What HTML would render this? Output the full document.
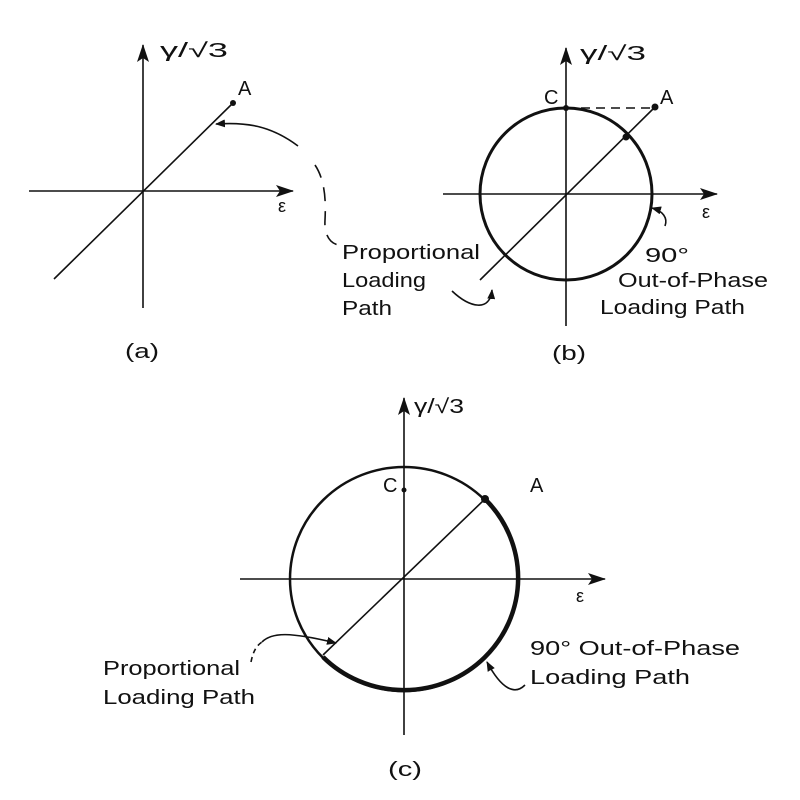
<!DOCTYPE html>
<html><head><meta charset="utf-8"><style>
html,body{margin:0;padding:0;background:#fff}
svg{display:block}
text{font-family:"Liberation Sans",sans-serif;fill:#111}
</style></head><body>
<svg width="800" height="800" viewBox="0 0 800 800" xmlns="http://www.w3.org/2000/svg">
<defs>
<marker id="ah" markerWidth="10" markerHeight="8" refX="9" refY="4" orient="auto" markerUnits="userSpaceOnUse">
<path d="M0,0 L10,4 L0,8 Z" fill="#111"/></marker>
<marker id="big" markerWidth="18" markerHeight="12" refX="17" refY="6" orient="auto" markerUnits="userSpaceOnUse">
<path d="M0,0 L18,6 L0,12 L4,6 Z" fill="#111"/></marker>
</defs>
<g stroke="#111" fill="none" stroke-width="1.6">
<line x1="29" y1="191" x2="293" y2="191" marker-end="url(#big)"/>
<line x1="143" y1="308" x2="143" y2="45" marker-end="url(#big)"/>
<line x1="54" y1="279" x2="233" y2="103"/>
<path d="M298,146 C270,125 245,122 216,124" marker-end="url(#ah)"/>
<path d="M315,165 C325,180 326,200 325,220 C324,235 330,243 338,245" stroke-dasharray="14,10"/>
<line x1="443" y1="194" x2="717" y2="194" marker-end="url(#big)"/>
<line x1="566" y1="326" x2="566" y2="48" marker-end="url(#big)"/>
<circle cx="566" cy="194" r="86" stroke-width="3"/>
<line x1="480" y1="280" x2="655" y2="107"/>
<line x1="566" y1="108" x2="655" y2="108" stroke-dasharray="9,6"/>
<path d="M452,291 C470,308 490,312 492,290" marker-end="url(#ah)"/>
<path d="M665,226 C668,218 663,211 652,208" marker-end="url(#ah)"/>
<line x1="240" y1="579" x2="605" y2="579" marker-end="url(#big)"/>
<line x1="404" y1="735" x2="404" y2="398" marker-end="url(#big)"/>
<ellipse cx="404" cy="579" rx="114" ry="112" stroke-width="2.5"/>
<path d="M485,499 A114,112 0 0 1 323,657" stroke-width="4.5"/>
<line x1="485" y1="499" x2="323" y2="655"/>
<path d="M262,642 C272,632 290,632 336,643" marker-end="url(#ah)"/>
<path d="M251,662 C253,652 256,646 262,642" stroke-dasharray="5,4"/>
<path d="M525,685 C515,695 502,690 487,662" marker-end="url(#ah)"/>
</g>
<g fill="#111">
<circle cx="233" cy="103" r="3"/>
<circle cx="655" cy="107" r="3.5"/>
<circle cx="566" cy="108" r="3"/>
<circle cx="626" cy="137" r="3.5"/>
<circle cx="404" cy="490" r="2.5"/>
<circle cx="485" cy="499" r="4"/>
</g>
<g font-size="20">
<text x="160" y="57" textLength="68" lengthAdjust="spacingAndGlyphs">γ/√3</text>
<text x="238" y="95">A</text>
<text x="278" y="212" font-size="18">ε</text>
<text x="342" y="259" textLength="138" lengthAdjust="spacingAndGlyphs">Proportional</text>
<text x="342" y="287" textLength="84" lengthAdjust="spacingAndGlyphs">Loading</text>
<text x="342" y="315" textLength="50" lengthAdjust="spacingAndGlyphs">Path</text>
<text x="125" y="358" textLength="34" lengthAdjust="spacingAndGlyphs">(a)</text>
<text x="580" y="60" textLength="66" lengthAdjust="spacingAndGlyphs">γ/√3</text>
<text x="544" y="104">C</text>
<text x="660" y="104">A</text>
<text x="702" y="218" font-size="18">ε</text>
<text x="645" y="262" textLength="44" lengthAdjust="spacingAndGlyphs">90°</text>
<text x="618" y="287" textLength="150" lengthAdjust="spacingAndGlyphs">Out-of-Phase</text>
<text x="600" y="314" textLength="145" lengthAdjust="spacingAndGlyphs">Loading Path</text>
<text x="552" y="360" textLength="34" lengthAdjust="spacingAndGlyphs">(b)</text>
<text x="414" y="413" textLength="50" lengthAdjust="spacingAndGlyphs">γ/√3</text>
<text x="383" y="492">C</text>
<text x="530" y="492">A</text>
<text x="576" y="602" font-size="18">ε</text>
<text x="530" y="655" textLength="210" lengthAdjust="spacingAndGlyphs">90° Out-of-Phase</text>
<text x="530" y="684" textLength="160" lengthAdjust="spacingAndGlyphs">Loading Path</text>
<text x="103" y="675" textLength="137" lengthAdjust="spacingAndGlyphs">Proportional</text>
<text x="103" y="704" textLength="152" lengthAdjust="spacingAndGlyphs">Loading Path</text>
<text x="388" y="776" textLength="34" lengthAdjust="spacingAndGlyphs">(c)</text>
</g>
</svg>
</body></html>
